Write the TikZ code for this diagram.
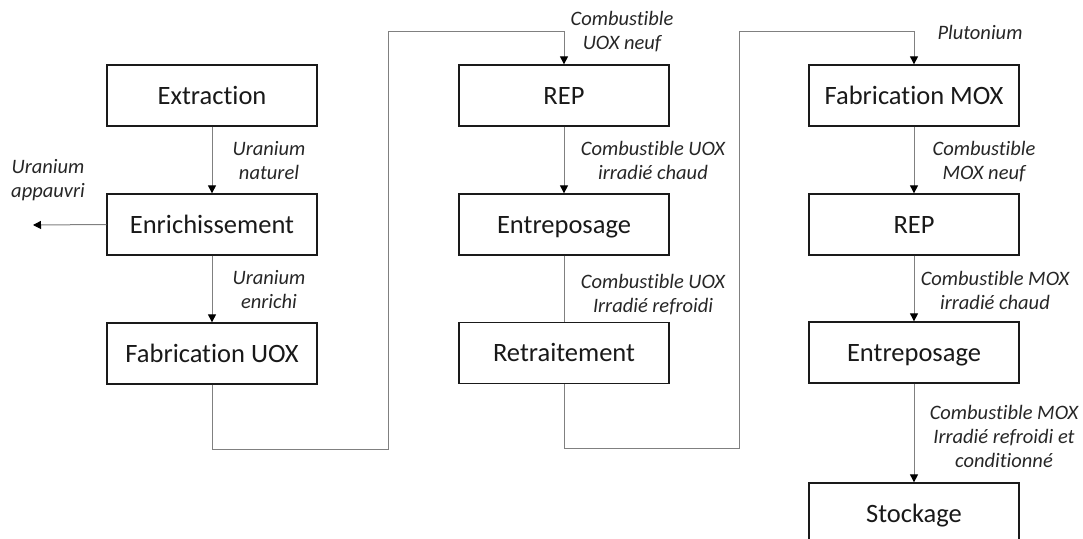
\documentclass[tikz,border=0pt]{standalone}
\usepackage{fontspec}
\setmainfont{Carlito}[Ligatures={NoCommon}]
\usetikzlibrary{arrows.meta}
\definecolor{boxline}{HTML}{1A1A1A}
\definecolor{connline}{HTML}{808080}
\tikzset{
  stage/.style={draw=boxline, line width=1.3pt, minimum width=210pt, minimum height=61pt,
    inner sep=0pt, text height=17.5pt, text depth=0pt,
    font=\fontsize{26.5}{31}\selectfont, text=black!90},
  conn/.style={draw=connline, line width=1pt},
  tip/.style={-{Triangle[length=8pt,width=8pt,color=black]}},
  lbl/.style={align=center, inner sep=0pt, font=\fontsize{20.5}{24}\selectfont\itshape, text=black!85}
}
\begin{document}
\begin{tikzpicture}[x=1pt,y=-1pt]
\clip (0,0) rectangle (1083,538);
% column 1
\node[stage] (ext) at (212,95.5) {Extraction};
\node[stage] (enr) at (212,224.5) {Enrichissement};
\node[stage] (fabu) at (212,353.5) {Fabrication UOX};
% column 2
\node[stage] (rep1) at (564,95.5) {REP};
\node[stage] (ent1) at (564,224.5) {Entreposage};
\node[stage] (ret) at (564,353) {Retraitement};
% column 3
\node[stage] (fmox) at (914,95.5) {Fabrication MOX};
\node[stage] (rep2) at (914,224.5) {REP};
\node[stage] (ent2) at (914,352.5) {Entreposage};
\node[stage] (sto) at (914,513.5) {Stockage};
% coordinates
\coordinate (out) at (33,225);
\coordinate (a1) at (388,449);
\coordinate (a2) at (388,31);
\coordinate (b1) at (739,448);
\coordinate (b2) at (739,31);
% connectors
\draw[conn,tip] (ext) -- (enr);
\draw[conn,tip] (enr) -- (fabu);
\draw[conn,tip] (enr.west) -- (out);
\draw[conn,tip] (fabu.south) |- (a1) -- (a2) -| (rep1.north);
\draw[conn,tip] (rep1) -- (ent1);
\draw[conn] (ent1) -- (ret);
\draw[conn,tip] (ret.south) |- (b1) -- (b2) -| (fmox.north);
\draw[conn,tip] (fmox) -- (rep2);
\draw[conn,tip] (rep2) -- (ent2);
\draw[conn,tip] (ent2) -- (sto);
% labels
\node[lbl] (l1) at (269,161) {Uranium\\naturel};
\node[lbl] (l2) at (48,180) {Uranium\\appauvri};
\node[lbl] (l3) at (269,290) {Uranium\\enrichi};
\node[lbl] (l4) at (622,32) {Combustible\\UOX neuf};
\node[lbl] (l5) at (653,160) {Combustible UOX\\irradié chaud};
\node[lbl] (l6) at (653,295) {Combustible UOX\\Irradié refroidi};
\node[lbl] (l7) at (980,32) {Plutonium};
\node[lbl] (l8) at (984,162) {Combustible\\MOX neuf};
\node[lbl] (l9) at (995,290) {Combustible MOX\\irradié chaud};
\node[lbl] (l10) at (1004,436) {Combustible MOX\\Irradié refroidi et\\conditionné};
\end{tikzpicture}
\end{document}
